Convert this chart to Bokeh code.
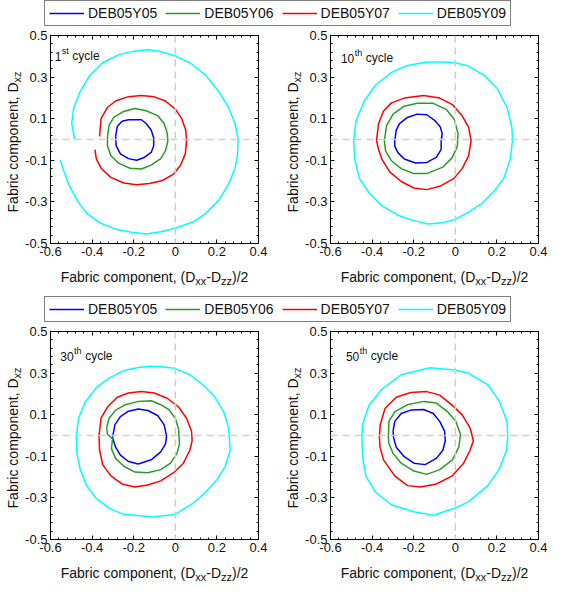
import numpy as np
from bokeh.plotting import figure
from bokeh.models import Range1d, LinearAxis, FixedTicker, Span, Label, Legend, LegendItem
from bokeh.layouts import column, row
from bokeh.embed import file_html
from bokeh.resources import INLINE

# ---------------- data ----------------
series_names = ["DEB05Y05", "DEB05Y06", "DEB05Y07", "DEB05Y09"]
series_colors = ["#0000ff", "#2a9a2a", "#ff0000", "#00ffff"]

x_ticks = [-0.6, -0.4, -0.2, 0, 0.2, 0.4]
x_tick_labels = ["-0.6", "-0.4", "-0.2", "0", "0.2", "0.4"]
y_ticks = [-0.5, -0.3, -0.1, 0.1, 0.3, 0.5]
y_tick_labels = ["-0.5", "-0.3", "-0.1", "0.1", "0.3", "0.5"]

cycle_numbers = ["1", "10", "30", "50"]
cycle_suffixes = ["st", "th", "th", "th"]
cycle_label_x = [-0.58, -0.55, -0.553, -0.526]
cycle_label_y = [0.40, 0.39, 0.38, 0.38]

x_title = [("Fabric component, (D", 14, 0), ("xx", 11, 4), ("-D", 14, 0), ("zz", 11, 4), (")/2", 14, 0)]
y_title_main = "Fabric component, D"
y_title_sub = "xz"

# 1st cycle
c1_y05_x = [-0.287, -0.279, -0.256, -0.225, -0.163, -0.140, -0.116, -0.104, -0.104, -0.116, -0.147, -0.186, -0.225, -0.264, -0.284]
c1_y05_y = [0.015, 0.062, 0.088, 0.095, 0.095, 0.077, 0.046, 0.008, -0.031, -0.062, -0.085, -0.100, -0.092, -0.069, -0.031]
c1_y06_x = [-0.326, -0.318, -0.295, -0.248, -0.194, -0.140, -0.085, -0.054, -0.039, -0.036, -0.047, -0.070, -0.116, -0.163, -0.217, -0.271, -0.310, -0.326]
c1_y06_y = [0.015, 0.069, 0.108, 0.135, 0.149, 0.138, 0.115, 0.077, 0.031, -0.008, -0.054, -0.092, -0.123, -0.142, -0.138, -0.115, -0.077, -0.031]
c1_y07_x = [-0.364, -0.357, -0.326, -0.287, -0.225, -0.163, -0.101, -0.047, 0.000, 0.031, 0.050, 0.054, 0.048, 0.026, -0.008, -0.062, -0.124, -0.186, -0.248, -0.310, -0.357, -0.380, -0.386]
c1_y07_y = [0.015, 0.100, 0.154, 0.185, 0.206, 0.211, 0.205, 0.185, 0.146, 0.100, 0.046, -0.008, -0.069, -0.123, -0.166, -0.197, -0.212, -0.217, -0.209, -0.182, -0.138, -0.092, -0.049]
c1_y09_x = [-0.484, -0.498, -0.488, -0.457, -0.411, -0.349, -0.271, -0.194, -0.132, -0.070, -0.003, 0.070, 0.147, 0.209, 0.256, 0.287, 0.302, 0.299, 0.287, 0.256, 0.209, 0.147, 0.085, -0.003, -0.070, -0.140, -0.209, -0.287, -0.364, -0.426, -0.473, -0.512, -0.535, -0.553]
c1_y09_y = [0.000, 0.077, 0.154, 0.231, 0.308, 0.369, 0.408, 0.426, 0.431, 0.423, 0.403, 0.369, 0.308, 0.231, 0.154, 0.077, 0.000, -0.077, -0.138, -0.215, -0.292, -0.354, -0.397, -0.428, -0.443, -0.454, -0.446, -0.431, -0.400, -0.354, -0.292, -0.215, -0.154, -0.100]

# 10th cycle
c10_y05_x = [-0.291, -0.284, -0.268, -0.230, -0.183, -0.137, -0.098, -0.072, -0.063, -0.068, -0.068, -0.091, -0.137, -0.191, -0.245, -0.276, -0.291]
c10_y05_y = [-0.005, 0.045, 0.076, 0.106, 0.122, 0.119, 0.091, 0.060, 0.029, -0.009, -0.048, -0.086, -0.110, -0.113, -0.094, -0.063, -0.032]
c10_y06_x = [-0.341, -0.330, -0.299, -0.245, -0.183, -0.106, -0.044, -0.006, 0.013, 0.010, -0.014, -0.060, -0.137, -0.199, -0.260, -0.307, -0.335]
c10_y06_y = [-0.005, 0.068, 0.122, 0.160, 0.174, 0.174, 0.145, 0.099, 0.029, -0.032, -0.086, -0.133, -0.164, -0.164, -0.140, -0.102, -0.056]
c10_y07_x = [-0.379, -0.369, -0.345, -0.307, -0.245, -0.152, -0.075, -0.014, 0.033, 0.064, 0.076, 0.064, 0.033, -0.006, -0.075, -0.137, -0.199, -0.260, -0.315, -0.353, -0.369]
c10_y07_y = [-0.005, 0.076, 0.137, 0.176, 0.199, 0.211, 0.199, 0.168, 0.114, 0.060, -0.005, -0.079, -0.140, -0.187, -0.225, -0.241, -0.233, -0.202, -0.156, -0.094, -0.048]
c10_y09_x = [-0.489, -0.477, -0.438, -0.384, -0.307, -0.230, -0.137, -0.060, -0.001, 0.064, 0.141, 0.202, 0.249, 0.272, 0.275, 0.264, 0.233, 0.187, 0.125, 0.064, -0.001, -0.060, -0.129, -0.199, -0.276, -0.353, -0.415, -0.461, -0.484]
c10_y09_y = [-0.005, 0.091, 0.184, 0.261, 0.323, 0.356, 0.373, 0.372, 0.369, 0.353, 0.307, 0.245, 0.153, 0.060, -0.005, -0.094, -0.187, -0.248, -0.310, -0.349, -0.384, -0.400, -0.406, -0.390, -0.364, -0.318, -0.256, -0.187, -0.094]

# 30th cycle
c30_y05_x = [-0.302, -0.290, -0.264, -0.225, -0.178, -0.132, -0.085, -0.054, -0.042, -0.047, -0.070, -0.116, -0.178, -0.225, -0.264, -0.287]
c30_y05_y = [-0.009, 0.052, 0.091, 0.117, 0.127, 0.120, 0.096, 0.052, -0.003, -0.040, -0.079, -0.117, -0.137, -0.125, -0.094, -0.056]
c30_y06_x = [-0.330, -0.318, -0.287, -0.240, -0.178, -0.116, -0.070, -0.031, 0.000, 0.016, 0.020, 0.008, -0.023, -0.070, -0.132, -0.194, -0.248, -0.287, -0.307, -0.302, -0.326]
c30_y06_y = [0.037, 0.083, 0.122, 0.148, 0.164, 0.167, 0.148, 0.125, 0.083, 0.029, -0.040, -0.086, -0.133, -0.164, -0.179, -0.176, -0.148, -0.110, -0.063, -0.017, 0.006]
c30_y07_x = [-0.367, -0.357, -0.326, -0.279, -0.225, -0.163, -0.101, -0.039, 0.016, 0.054, 0.078, 0.081, 0.070, 0.039, -0.008, -0.070, -0.132, -0.194, -0.256, -0.310, -0.349, -0.364]
c30_y07_y = [-0.003, 0.083, 0.137, 0.184, 0.204, 0.211, 0.204, 0.179, 0.137, 0.083, 0.022, -0.025, -0.071, -0.133, -0.179, -0.218, -0.238, -0.248, -0.233, -0.194, -0.140, -0.071]
c30_y09_x = [-0.476, -0.465, -0.434, -0.380, -0.318, -0.248, -0.178, -0.124, -0.070, -0.003, 0.070, 0.132, 0.186, 0.233, 0.256, 0.259, 0.264, 0.240, 0.202, 0.147, 0.085, -0.003, -0.070, -0.101, -0.194, -0.256, -0.318, -0.380, -0.426, -0.457, -0.473]
c30_y09_y = [-0.003, 0.083, 0.160, 0.230, 0.276, 0.312, 0.327, 0.333, 0.330, 0.323, 0.292, 0.245, 0.191, 0.114, 0.037, -0.003, -0.071, -0.148, -0.210, -0.272, -0.326, -0.380, -0.387, -0.392, -0.383, -0.377, -0.349, -0.302, -0.241, -0.164, -0.086]

# 50th cycle
c50_y05_x = [-0.299, -0.291, -0.260, -0.214, -0.152, -0.106, -0.075, -0.052, -0.048, -0.060, -0.091, -0.145, -0.199, -0.245, -0.284, -0.297]
c50_y05_y = [0.022, 0.068, 0.106, 0.122, 0.125, 0.106, 0.068, 0.022, -0.025, -0.071, -0.110, -0.140, -0.133, -0.102, -0.056, -0.009]
c50_y06_x = [-0.322, -0.319, -0.291, -0.230, -0.152, -0.091, -0.037, 0.002, 0.025, 0.017, -0.014, -0.075, -0.137, -0.199, -0.260, -0.299, -0.319]
c50_y06_y = [-0.009, 0.068, 0.114, 0.148, 0.164, 0.156, 0.114, 0.068, 0.006, -0.056, -0.117, -0.164, -0.187, -0.171, -0.133, -0.086, -0.040]
c50_y07_x = [-0.365, -0.361, -0.338, -0.284, -0.214, -0.137, -0.075, -0.014, 0.033, 0.071, 0.087, 0.071, 0.040, -0.014, -0.091, -0.168, -0.230, -0.291, -0.345, -0.362]
c50_y07_y = [-0.009, 0.052, 0.130, 0.184, 0.207, 0.211, 0.194, 0.145, 0.099, 0.037, -0.025, -0.071, -0.133, -0.194, -0.233, -0.248, -0.241, -0.194, -0.117, -0.056]
c50_y09_x = [-0.449, -0.446, -0.415, -0.353, -0.260, -0.122, -0.001, 0.064, 0.156, 0.210, 0.249, 0.252, 0.246, 0.210, 0.156, 0.064, -0.001, -0.106, -0.199, -0.307, -0.384, -0.430, -0.446]
c50_y09_y = [-0.006, 0.052, 0.145, 0.222, 0.292, 0.326, 0.315, 0.299, 0.245, 0.168, 0.068, -0.006, -0.071, -0.164, -0.241, -0.318, -0.349, -0.383, -0.367, -0.333, -0.272, -0.194, -0.102]

panels = [
    [(c1_y05_x, c1_y05_y, True), (c1_y06_x, c1_y06_y, True), (c1_y07_x, c1_y07_y, False), (c1_y09_x, c1_y09_y, False)],
    [(c10_y05_x, c10_y05_y, True), (c10_y06_x, c10_y06_y, True), (c10_y07_x, c10_y07_y, True), (c10_y09_x, c10_y09_y, True)],
    [(c30_y05_x, c30_y05_y, True), (c30_y06_x, c30_y06_y, True), (c30_y07_x, c30_y07_y, True), (c30_y09_x, c30_y09_y, True)],
    [(c50_y05_x, c50_y05_y, True), (c50_y06_x, c50_y06_y, True), (c50_y07_x, c50_y07_y, True), (c50_y09_x, c50_y09_y, True)],
]

# ---------------- helpers ----------------
FONT = "Liberation Sans"
TXT = "#111111"
AW = {' ': 278, ',': 278, '(': 333, ')': 333, '/': 278, '-': 333, '.': 278,
      'A': 667, 'B': 667, 'C': 722, 'D': 722, 'E': 667, 'F': 611, 'Y': 667,
      'a': 556, 'b': 556, 'c': 500, 'e': 556, 'h': 556, 'i': 222, 'l': 222, 'm': 833,
      'n': 556, 'o': 556, 'p': 556, 'r': 333, 's': 500, 't': 278, 'x': 500, 'y': 500, 'z': 500}


def tw(s, size):
    return sum(AW.get(c, 556) for c in s) * size / 1000.0


x_minor = np.round(np.arange(-0.6, 0.4001, 0.04), 2).tolist()
y_minor = np.round(np.arange(-0.5, 0.5001, 0.04), 2).tolist()

PANEL_W = 208
PANEL_H = 208
TICK_BORDER = 20
TOP_BORDER = 9


def make_axis(ticks, labels, minor, show):
    ov = {t: (l if show else "") for t, l in zip(ticks, labels)}
    return LinearAxis(ticker=FixedTicker(ticks=ticks, minor_ticks=minor),
                      major_label_overrides=ov,
                      major_tick_in=4, major_tick_out=0, minor_tick_in=2, minor_tick_out=0,
                      axis_line_color="black", major_tick_line_color="black", minor_tick_line_color="black",
                      major_label_text_font=FONT, major_label_text_color=TXT,
                      major_label_text_font_size="13px" if show else "0px",
                      major_label_standoff=3 if show else 0)


def strip(width, height):
    p = figure(width=width, height=height, x_range=Range1d(0, width), y_range=Range1d(0, height),
               output_backend="svg", toolbar_location=None,
               x_axis_location=None, y_axis_location=None, min_border=0)
    p.outline_line_color = None
    for g in p.grid:
        g.visible = False
    return p


def put_xtitle(p, pieces, cx, baseline):
    total = sum(tw(t, s) for t, s, _ in pieces)
    cum = -total / 2.0
    for t, s, shift in pieces:
        p.add_layout(Label(x=cx + cum, y=baseline - shift, text=t,
                           text_font=FONT, text_font_size=f"{s}px", text_color=TXT,
                           text_align="left", text_baseline="alphabetic"))
        cum += tw(t, s)


def put_ytitle(p, baseline_x, cy):
    # main text ends at the junction, subscript starts at the same junction
    w_main = tw(y_title_main, 14)
    w_sub = tw(y_title_sub, 11)
    junction = cy - (w_main + w_sub) / 2.0 + w_main
    p.add_layout(Label(x=baseline_x, y=junction, text=y_title_main, angle=np.pi / 2,
                       text_font=FONT, text_font_size="14px", text_color=TXT,
                       text_align="right", text_baseline="alphabetic"))
    p.add_layout(Label(x=baseline_x + 4, y=junction, text=y_title_sub, angle=np.pi / 2,
                       text_font=FONT, text_font_size="11px", text_color=TXT,
                       text_align="left", text_baseline="alphabetic"))


def add_legend(p, x0):
    items = []
    for name, col in zip(series_names, series_colors):
        r = p.line(x=np.array([np.nan, np.nan]), y=np.array([np.nan, np.nan]), line_color=col, line_width=1.5)
        items.append(LegendItem(label=name, renderers=[r]))
    leg = Legend(items=items, orientation="horizontal", location=(x0, 0),
                 glyph_width=35, glyph_height=12, label_height=12, label_standoff=4,
                 spacing=8, padding=4, margin=0,
                 border_line_color="black", border_line_width=1,
                 label_text_font=FONT, label_text_font_size="14px", label_text_color=TXT)
    p.add_layout(leg)


def make_panel(k, width, bl, br):
    height = TOP_BORDER + PANEL_H + TICK_BORDER
    p = figure(width=width, height=height, x_range=Range1d(-0.6, 0.4), y_range=Range1d(-0.5, 0.5),
               output_backend="svg", toolbar_location=None,
               x_axis_location=None, y_axis_location=None,
               min_border_left=bl, min_border_right=br, min_border_top=TOP_BORDER, min_border_bottom=TICK_BORDER)
    for g in p.grid:
        g.visible = False
    p.outline_line_color = "black"
    p.outline_line_width = 1
    p.add_layout(make_axis(x_ticks, x_tick_labels, x_minor, True), "below")
    p.add_layout(make_axis(y_ticks, y_tick_labels, y_minor, True), "left")
    p.add_layout(make_axis(x_ticks, x_tick_labels, x_minor, False), "above")
    p.add_layout(make_axis(y_ticks, y_tick_labels, y_minor, False), "right")

    p.add_layout(Span(location=0, dimension="height", line_color="#d6cdbf", line_dash="7 5", line_width=1.5))
    p.add_layout(Span(location=0, dimension="width", line_color="#d6cdbf", line_dash="7 5", line_width=1.5))

    for (xs, ys, closed), col in zip(panels[k], series_colors):
        xx = list(xs) + ([xs[0]] if closed else [])
        yy = list(ys) + ([ys[0]] if closed else [])
        p.line(xx, yy, line_color=col, line_width=1.5)

    num, suf = cycle_numbers[k], cycle_suffixes[k]
    ax_, ay_ = cycle_label_x[k], cycle_label_y[k]
    wn = tw(num, 12)
    ws = tw(suf, 9)
    p.add_layout(Label(x=ax_, y=ay_, text=num, text_font=FONT, text_font_size="12px",
                       text_color=TXT, text_baseline="alphabetic"))
    p.add_layout(Label(x=ax_, y=ay_, text=suf, x_offset=wn + 0.5, y_offset=5, text_font=FONT,
                       text_font_size="9px", text_color=TXT, text_baseline="alphabetic"))
    p.add_layout(Label(x=ax_, y=ay_, text="cycle", x_offset=wn + ws + 4, text_font=FONT,
                       text_font_size="12px", text_color=TXT, text_baseline="alphabetic"))
    return p


YL_W = 22


def ylabel_fig():
    height = TOP_BORDER + PANEL_H + TICK_BORDER
    p = strip(YL_W, height)
    put_ytitle(p, 12, TICK_BORDER + PANEL_H / 2.0)
    return p


LW1, LB1, LR1 = 258, 28, 22
LW2, LB2, LR2 = 250, 28, 14
PAGE_W = YL_W + LW1 + YL_W + LW2

leg_top = strip(PAGE_W, 26)
add_legend(leg_top, 44)

f1 = make_panel(0, LW1, LB1, LR1)
f2 = make_panel(1, LW2, LB2, LR2)
f3 = make_panel(2, LW1, LB1, LR1)
f4 = make_panel(3, LW2, LB2, LR2)

c1 = YL_W + LB1 + PANEL_W / 2.0
c2 = YL_W + LW1 + YL_W + LB2 + PANEL_W / 2.0

mid = strip(PAGE_W, 59)
put_xtitle(mid, x_title, c1, 59 - 13)
put_xtitle(mid, x_title, c2, 59 - 13)
add_legend(mid, 44)

bottom = strip(PAGE_W, 30)
put_xtitle(bottom, x_title, c1, 30 - 13)
put_xtitle(bottom, x_title, c2, 30 - 13)

layout = column(leg_top,
                row(ylabel_fig(), f1, ylabel_fig(), f2),
                mid,
                row(ylabel_fig(), f3, ylabel_fig(), f4),
                bottom)

open("out.html", "w").write(file_html(layout, INLINE))
